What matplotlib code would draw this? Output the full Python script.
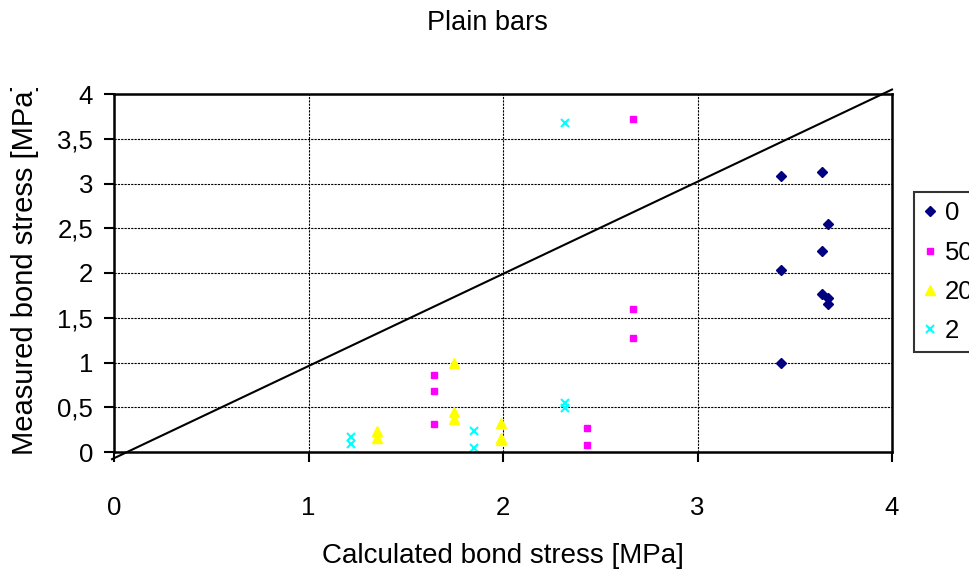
import numpy as np
import matplotlib
matplotlib.use('Agg')
import matplotlib.pyplot as plt
from matplotlib.ticker import FuncFormatter
from matplotlib.transforms import Bbox

plt.rcParams['font.family'] = ['Liberation Sans', 'DejaVu Sans']

# series "0" - navy diamonds
x0 = [3.43, 3.64, 3.67, 3.64, 3.43, 3.64, 3.67, 3.67, 3.43]
y0 = [3.08, 3.13, 2.55, 2.25, 2.03, 1.77, 1.72, 1.65, 1.00]
# series "50" - magenta squares
x50 = [2.67, 2.67, 2.67, 1.645, 1.645, 1.645, 2.43, 2.43]
y50 = [3.72, 1.60, 1.27, 0.86, 0.68, 0.31, 0.27, 0.08]
# series "20" - yellow triangles
x20 = [1.75, 1.75, 1.75, 1.99, 1.99, 1.99, 1.35, 1.35]
y20 = [0.99, 0.45, 0.37, 0.32, 0.16, 0.13, 0.24, 0.16]
# series "2" - cyan crosses
x2 = [2.32, 2.32, 2.32, 1.85, 1.85, 1.22, 1.22]
y2 = [3.68, 0.55, 0.49, 0.23, 0.05, 0.17, 0.09]

labels = ['0', '50', '20', '2']

W, H = 970, 572
fig = plt.figure(figsize=(W / 100, H / 100), dpi=100)
ax = fig.add_axes([114 / W, 1 - 452 / H, 778 / W, 358 / H])

ax.plot(x0, y0, linestyle='none', marker='D', markersize=5.5, color='#000080', label=labels[0], clip_on=False)
ax.plot(x50, y50, linestyle='none', marker='s', markersize=5, color='#FF00FF', label=labels[1], clip_on=False)
ax.plot(x20, y20, linestyle='none', marker='^', markersize=6.5, color='#FFFF00', label=labels[2], clip_on=False)
ax.plot(x2, y2, linestyle='none', marker='x', markersize=6, mew=1.5, color='#00FFFF', label=labels[3], clip_on=False)

# reference line
ax.plot([-0.01, 4.0], [-0.08, 4.05], color='black', lw=1.5, clip_on=False, zorder=1)

ax.set_xlim(0, 4)
ax.set_ylim(0, 4)
ax.set_xticks([0, 1, 2, 3, 4])
ax.set_yticks(np.arange(0, 4.01, 0.5))
ax.yaxis.set_major_formatter(FuncFormatter(lambda v, p: ('%g' % v).replace('.', ',')))
ax.tick_params(axis='both', direction='out', length=7, width=1.5, labelsize=18.5)
ax.tick_params(axis='x', pad=25)
ax.tick_params(axis='y', pad=8)
ax.grid(True, color='black', linestyle=(0, (2, 1)), linewidth=0.8)
ax.set_axisbelow(True)
for s in ax.spines.values():
    s.set_linewidth(1.8)

ax.set_title('Plain bars', fontsize=19.5, pad=46, x=(487 - 114) / 778)
ax.set_xlabel('Calculated bond stress [MPa]', fontsize=20, labelpad=16)

# y label, cut at the top like in the original
yl = fig.text(25 / W, 1 - 455 / H, 'Measured bond stress [MPa]', fontsize=21,
              rotation=90, ha='center', va='bottom')
yl.set_clip_box(Bbox.from_extents(0, 0, W, H - 88))
yl.set_clip_on(True)

leg = ax.legend(loc='upper left', bbox_to_anchor=(1.028, 0.726), borderaxespad=0,
                fontsize=18.5, frameon=True, fancybox=False, handlelength=0.56,
                handletextpad=0.3, labelspacing=0.6, borderpad=0.35)
leg.get_frame().set_edgecolor('black')
leg.get_frame().set_linewidth(1.5)

fig.savefig('out.png', dpi=100)
